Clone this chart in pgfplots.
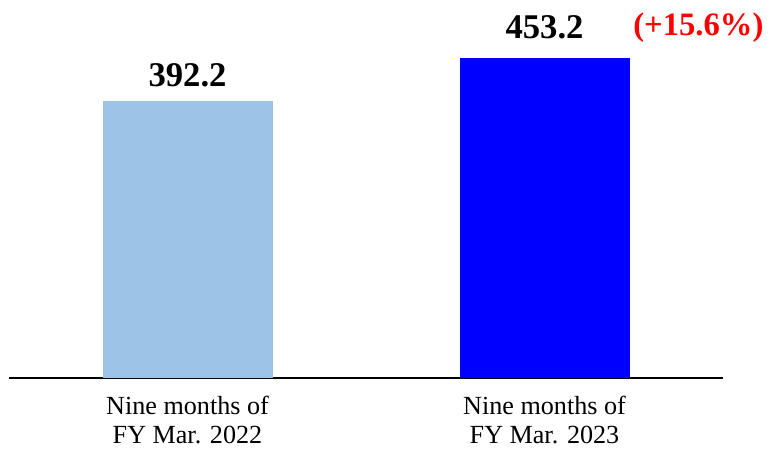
\documentclass[border=0pt]{standalone}
\usepackage{fontspec}
\setmainfont{Liberation Serif}
\usepackage{pgfplots}
\pgfplotsset{compat=1.18}

\definecolor{barlight}{HTML}{9DC3E6}
\definecolor{bardark}{HTML}{0000FF}
\definecolor{growthred}{HTML}{FF0000}

\begin{document}
\begin{tikzpicture}
\begin{axis}[
  name=ax,
  scale only axis,
  width=535.5pt, height=283.5pt,
  xmin=-0.5, xmax=1.5,
  ymin=0, ymax=534.6,
  ybar, bar width=127.5pt,
  clip=false,
  hide y axis,
  axis x line*=bottom,
  x axis line style={-, line width=1.5pt, black},
  xtick={0,1},
  xtick style={draw=none},
  xticklabels={{Nine months of\\FY Mar. 2022},{Nine months of\\FY Mar. 2023}},
  xticklabel style={align=center, anchor=base, inner sep=0pt, yshift=-44.6pt,
    font=\fontsize{19.6}{21.5}\selectfont},
  nodes near coords,
  nodes near coords align={vertical},
  every node near coord/.append style={inner sep=0pt, black,
    font=\fontsize{26}{30}\selectfont\bfseries},
  /pgf/number format/.cd, fixed, fixed zerofill, precision=1,
    assume math mode=true,
]
  % nine months of FY Mar. 2022
  \addplot[fill=barlight, draw=none, bar shift=0pt,
    every node near coord/.append style={yshift=10pt}]
    coordinates {(0,392.2)};
  % nine months of FY Mar. 2023
  \addplot[fill=bardark, draw=none, bar shift=0pt,
    every node near coord/.append style={yshift=14pt}]
    coordinates {(1,453.2)};
  % year-on-year growth
  \node[anchor=base west, inner sep=0pt, text=growthred,
        font=\fontsize{24.5}{28}\selectfont\bfseries,
        xshift=66.4pt, yshift=16.2pt] at (axis cs:1,453.2) {(+15.6\%)};
\end{axis}
\pgfresetboundingbox
\path ([xshift=-6.75pt,yshift=-53.25pt]ax.south west)
  rectangle ([xshift=35.25pt]ax.north east);
\end{tikzpicture}
\end{document}
